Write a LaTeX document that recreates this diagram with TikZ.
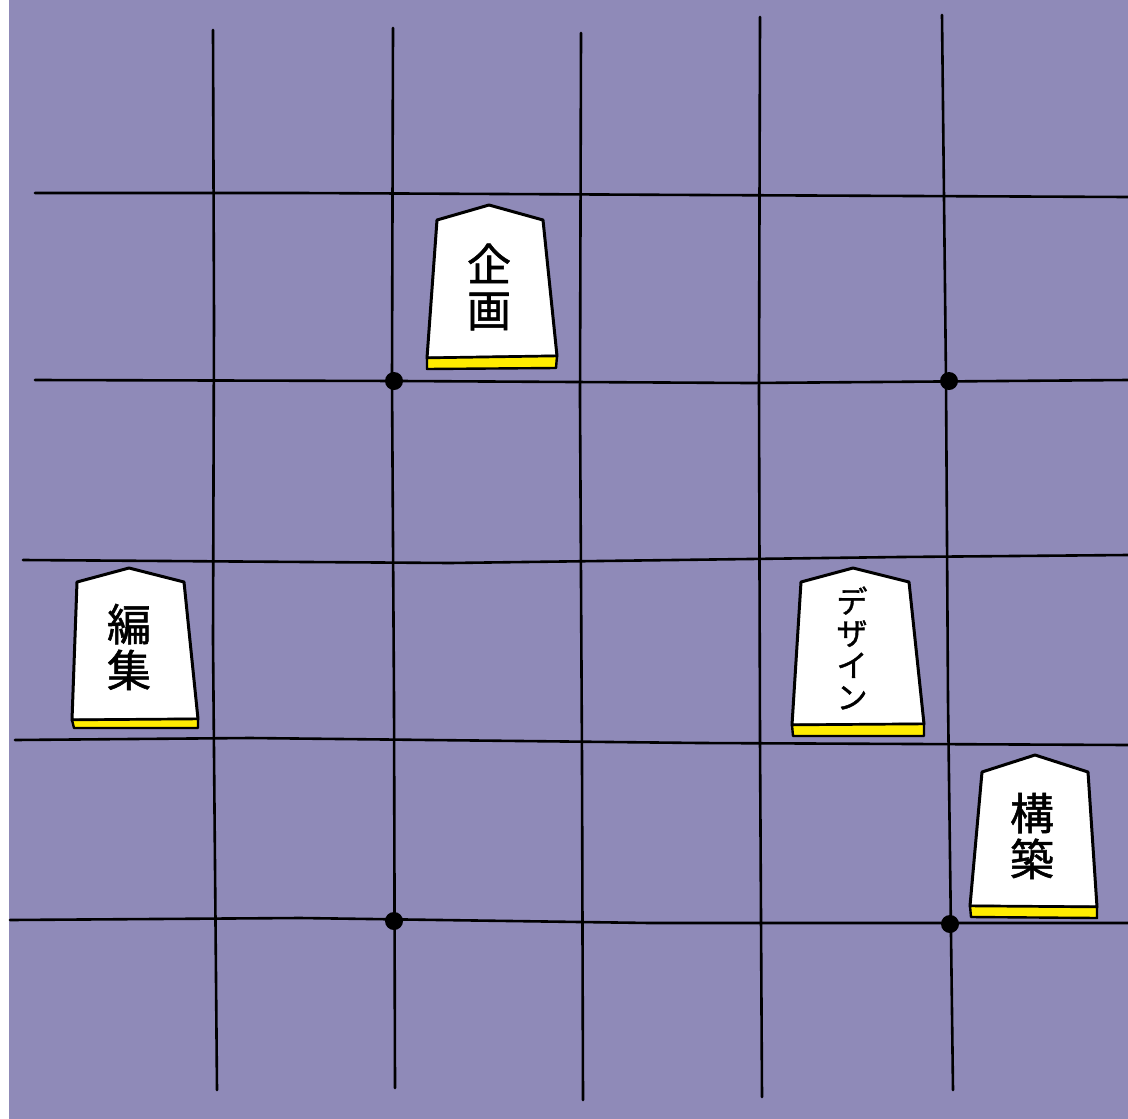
\documentclass[tikz,border=0pt]{standalone}
\usepackage{fontspec}
\newfontfamily\cjk[FakeBold=1.2]{Noto Sans CJK JP}
\definecolor{boardpurple}{RGB}{143,138,184}
\definecolor{bandyellow}{RGB}{255,236,0}
\tikzset{
  gridline/.style={line width=2.6pt,line cap=round,line join=round},
  komabody/.style={fill=white,draw=black,line width=3pt,line join=round},
  komaband/.style={fill=bandyellow,draw=black,line width=2.4pt,line join=round},
  komatext/.style={inner sep=0pt,font=\fontsize{44}{48}\selectfont\cjk,align=center},
  gridpt/.style={circle,fill=black,inner sep=0pt,minimum size=18pt}
}
\begin{document}
\begin{tikzpicture}[x=1pt,y=-1pt]
\path[use as bounding box] (0,0) rectangle (1128,1119);
\fill[boardpurple] (9,0) rectangle (1128,1119);
% vertical lines
\draw[gridline] (213,30) -- (214,320) -- (213,640) -- (217,1090);
\draw[gridline] (393,28) -- (392,380) -- (394,700) -- (395,1088);
\draw[gridline] (581,33) -- (580,400) -- (582,760) -- (583,1100);
\draw[gridline] (760,17) -- (759,390) -- (760,740) -- (762,1097);
\draw[gridline] (942,15) -- (946,380) -- (948,700) -- (953,1090);
% horizontal lines
\draw[gridline] (35,193) -- (300,193) -- (700,195) -- (1128,197);
\draw[gridline] (35,380) -- (400,381) -- (750,383) -- (1128,380);
\draw[gridline] (23,560) -- (450,563) -- (900,557) -- (1128,555);
\draw[gridline] (15,740) -- (250,738) -- (700,743) -- (1128,745);
\draw[gridline] (10,920) -- (300,918) -- (650,923) -- (1128,923);
% crossing points
\node[gridpt] (pt1) at (394,381) {};
\node[gridpt] (pt2) at (949,381) {};
\node[gridpt] (pt3) at (394,921) {};
\node[gridpt] (pt4) at (950,924) {};
% koma: kikaku
\draw[komabody] (427,358) -- (437,220) -- (489,205) -- (543,220) -- (557,356) -- cycle;
\draw[komaband] (427,358) -- (557,356) -- (556,368) -- (427,369) -- cycle;
\node[komatext] (kikaku) at (489,287) {企\\[-2pt]画};
% koma: henshu
\draw[komabody] (72,720) -- (77,582) -- (129,568) -- (184,582) -- (198,719) -- cycle;
\draw[komaband] (72,720) -- (198,719) -- (198,728) -- (74,728) -- cycle;
\node[komatext] (henshu) at (129,647) {編\\[-2pt]集};
% koma: design
\draw[komabody] (792,725) -- (801,582) -- (853,568) -- (909,582) -- (924,724) -- cycle;
\draw[komaband] (792,725) -- (924,724) -- (924,736) -- (793,736) -- cycle;
\node[komatext,font=\fontsize{31}{32}\selectfont\cjk] (design) at (852,648) {デ\\ザ\\イ\\ン};
% koma: kochiku
\draw[komabody] (970,906) -- (982,772) -- (1035,755) -- (1088,772) -- (1097,907) -- cycle;
\draw[komaband] (970,906) -- (1097,907) -- (1097,918) -- (971,917) -- cycle;
\node[komatext] (kochiku) at (1032,836) {構\\[-2pt]築};
\end{tikzpicture}
\end{document}
